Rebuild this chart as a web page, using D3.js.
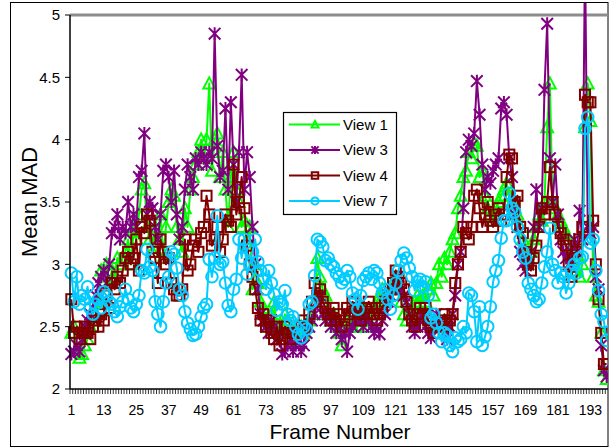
<!DOCTYPE html>
<html><head><meta charset="utf-8">
<script src="https://cdn.jsdelivr.net/npm/d3@7"></script>
<style>body{margin:0;background:#fff}svg{display:block}text{font-family:"Liberation Sans",Arial,sans-serif;fill:#000}</style>
</head><body><svg id="c" width="613" height="448"></svg>
<script>
const frames = d3.range(1, 200);
const yTicks = [2, 2.5, 3, 3.5, 4, 4.5, 5];
const xTickLabels = [1, 13, 25, 37, 49, 61, 73, 85, 97, 109, 121, 133, 145, 157, 169, 181, 193];
const seriesNames = ["View 1", "View 3", "View 4", "View 7"];

const view1 = [
2.45,2.5,2.3,2.25,2.28,2.35,2.4,2.5,2.55,2.6,
2.7,2.95,2.9,3.0,2.85,2.95,2.9,3.05,3.0,3.05,
3.1,3.2,3.0,3.3,3.2,3.4,3.6,3.65,3.3,3.2,
3.1,3.3,3.2,3.4,3.05,3.3,3.5,3.6,3.55,3.3,
3.2,3.1,3.45,3.3,3.6,3.7,3.8,3.9,4.0,3.85,
4.0,4.45,3.75,4.0,4.05,3.7,3.9,3.6,3.3,3.7,
3.9,3.6,3.5,3.3,3.35,3.2,3.3,2.8,3.0,2.85,
2.7,2.65,2.55,2.5,2.6,2.7,2.5,2.45,2.5,2.6,
2.55,2.5,2.45,2.4,2.45,2.5,2.45,2.5,2.55,2.6,
2.7,3.05,2.9,2.8,2.75,2.6,2.55,2.6,2.5,2.45,
2.35,2.5,2.55,2.6,2.5,2.55,2.5,2.6,2.65,2.5,
2.55,2.6,2.65,2.7,2.75,2.8,2.7,2.75,2.8,2.85,
2.9,2.8,2.7,2.6,2.55,2.6,2.65,2.7,2.75,2.7,
2.75,2.7,2.8,2.85,2.75,2.85,3.0,2.9,3.05,3.0,
3.1,3.2,3.25,3.45,3.55,3.7,3.75,3.9,3.85,3.97,
3.95,3.7,3.75,3.55,3.45,3.4,3.35,3.45,3.5,3.55,
3.6,3.65,3.55,3.5,3.45,3.4,3.3,3.2,3.1,3.05,
3.1,3.2,3.3,3.4,3.35,3.5,4.1,4.45,3.5,3.45,
3.4,3.35,3.3,3.25,3.2,3.1,3.0,2.95,2.9,3.0,
4.1,4.45,4.15,2.9,2.75,2.7,2.45,2.15,2.08];

const view3 = [
2.28,2.3,2.35,2.3,2.4,2.5,2.55,2.6,2.65,2.75,
2.85,2.9,2.95,2.85,3.0,3.25,3.3,3.4,3.2,3.3,
3.25,3.5,3.3,3.4,3.3,3.7,3.75,4.05,3.4,3.5,
3.45,3.3,3.2,3.4,3.75,3.8,3.7,3.5,3.75,3.4,
3.2,3.3,3.6,3.8,3.7,3.6,3.85,3.8,3.9,3.85,
3.8,3.9,3.85,4.85,3.95,3.7,3.75,4.25,3.6,4.3,
3.8,3.5,3.9,4.52,3.6,3.9,3.7,3.3,3.0,2.8,
2.6,2.55,2.5,2.45,2.55,2.5,2.4,2.45,2.28,2.3,
2.35,2.4,2.3,2.35,2.4,2.3,2.35,2.45,2.5,2.55,
2.6,2.7,2.75,2.6,2.55,2.6,2.5,2.55,2.45,2.5,
2.4,2.45,2.3,2.45,2.5,2.55,2.6,2.55,2.5,2.6,
2.55,2.5,2.45,2.5,2.44,2.55,2.6,2.7,2.75,2.8,
2.85,2.9,2.8,2.75,2.7,2.6,2.5,2.45,2.5,2.55,
2.6,2.5,2.45,2.41,2.5,2.6,2.55,2.5,2.45,2.4,
2.5,2.6,2.75,3.0,3.1,3.45,3.9,4.0,3.95,4.05,
4.47,4.2,3.8,3.6,3.7,3.65,3.75,3.8,3.85,4.25,
4.3,4.2,3.85,3.7,3.4,3.3,3.1,3.0,2.95,3.0,
3.1,3.3,3.6,3.3,3.45,4.4,4.93,3.85,3.5,3.8,
3.4,3.2,3.1,3.05,3.0,3.1,3.2,3.1,3.43,3.2,
5.5,3.3,3.25,3.3,2.9,2.8,2.35,2.15,2.1];

const view4 = [
2.72,2.45,2.5,2.4,2.45,2.5,2.45,2.4,2.5,2.55,
2.5,2.6,2.55,2.75,2.65,2.85,2.8,2.9,2.85,2.95,
3.05,3.1,3.0,3.05,3.2,2.95,3.3,3.25,3.4,3.35,
3.1,3.05,2.85,3.2,3.1,3.0,3.05,2.85,2.8,2.75,
2.75,2.8,3.2,2.95,3.0,3.15,3.2,3.1,3.25,3.3,
3.55,3.4,3.15,3.2,3.3,3.1,3.2,3.4,3.35,3.3,
3.8,3.4,3.5,3.7,3.45,3.15,3.0,2.9,2.8,2.65,
2.55,2.6,2.5,2.55,2.45,2.4,2.5,2.35,2.4,2.5,
2.45,2.4,2.45,2.5,2.45,2.5,2.55,2.5,2.6,2.7,
2.85,2.75,2.8,2.7,2.65,2.6,2.55,2.65,2.55,2.6,
2.5,2.55,2.65,2.6,2.7,2.65,2.6,2.55,2.6,2.65,
2.7,2.65,2.6,2.55,2.6,2.65,2.7,2.75,2.8,2.85,
2.95,2.9,2.85,2.8,2.7,2.6,2.55,2.5,2.6,2.65,
2.6,2.65,2.55,2.5,2.45,2.5,2.45,2.55,2.6,2.5,
2.55,2.6,2.85,3.0,3.1,3.3,3.25,3.2,3.3,3.55,
3.6,3.45,3.3,3.4,3.5,3.35,3.3,3.4,3.45,3.35,
3.4,3.7,3.88,3.85,3.5,3.55,3.3,3.25,3.1,3.0,
2.95,3.05,3.15,3.3,3.45,3.4,3.5,3.78,3.5,3.4,
3.3,3.25,3.2,3.15,3.0,2.9,3.05,3.1,3.2,3.3,
4.36,4.3,4.3,3.35,3.0,2.72,2.45,2.2,2.2];

const view7 = [
2.93,2.7,2.9,2.68,2.75,2.72,2.82,2.65,2.6,2.68,
2.72,2.65,2.78,2.75,2.7,2.68,2.62,2.58,2.66,2.7,
2.8,2.72,2.65,2.62,2.68,2.75,2.95,2.93,3.12,2.98,
2.95,2.7,2.6,2.5,2.7,2.85,2.9,3.1,3.08,2.97,
2.8,2.75,2.62,2.53,2.48,2.43,2.44,2.5,2.58,2.65,
2.68,3.04,2.9,3.05,3.39,3.0,3.02,2.85,2.67,2.62,
2.8,2.88,3.2,3.05,3.2,2.92,3.0,3.1,3.2,3.02,
2.95,2.88,2.8,2.95,2.85,2.76,2.63,2.7,2.68,2.79,
2.6,2.55,2.58,2.5,2.44,2.41,2.5,2.48,2.68,2.7,
2.91,3.2,3.18,3.14,3.03,3.05,3.0,2.98,2.93,2.9,
2.85,2.88,2.95,2.9,2.77,2.72,2.64,2.75,2.87,2.9,
2.93,2.88,2.95,2.93,2.85,2.77,2.8,2.72,2.64,2.75,
2.85,2.95,3.03,3.09,3.05,2.97,2.9,2.79,2.86,2.88,
2.82,2.86,2.75,2.57,2.6,2.53,2.45,2.38,2.45,2.43,
2.35,2.3,2.41,2.38,2.4,2.5,2.45,2.77,2.75,2.62,
2.38,2.66,2.35,2.42,2.5,2.66,2.86,2.95,3.03,3.21,
3.35,3.35,3.57,3.45,3.42,3.3,3.2,3.1,3.05,2.85,
2.8,2.75,2.7,2.72,2.85,2.98,3.1,3.29,3.0,2.95,
2.85,2.93,2.9,2.77,2.85,2.95,3.0,2.93,3.05,3.06,
4.09,4.18,3.17,3.2,2.95,2.79,2.6,2.54,2.39];

const seriesValues = [view1, view3, view4, view7];
const colors = ["#00ff00", "#800080", "#800000", "#00ccff"];
const shapes = ["triangle", "star", "square", "circle"];
const sizes = [6.2, 5.8, 5.6, 5.8];

const svg = d3.select("#c");
const L = 70, R = 608, T = 15, B = 389;
const x = d3.scaleBand().domain(frames).range([L, R]);
const y = d3.scaleLinear().domain([2, 5]).range([B, T]);
const cx = f => x(f) + x.bandwidth() / 2;

svg.append("defs").append("clipPath").attr("id", "clip")
  .append("rect").attr("x", 11).attr("y", 3).attr("width", 597).attr("height", 443);

svg.append("rect").attr("x", 10.5).attr("y", 2.5).attr("width", 597.5).attr("height", 444)
  .attr("fill", "#fff").attr("stroke", "#000").attr("stroke-width", 1);

svg.append("line").attr("x1", L).attr("x2", R).attr("y1", T).attr("y2", T)
  .attr("stroke", "#8c8c8c").attr("stroke-width", 3);

function marker(g, shape, s) {
  if (shape === "triangle") {
    g.append("path").attr("d", `M0,${-s} L${s * 0.95},${s * 0.8} L${-s * 0.95},${s * 0.8} Z`);
  } else if (shape === "star") {
    g.append("path").attr("d", `M${-s},${-s}L${s},${s}M${-s},${s}L${s},${-s}M0,${-s * 1.1}L0,${s * 1.1}`);
  } else if (shape === "square") {
    g.append("rect").attr("x", -s * 0.9).attr("y", -s * 0.9).attr("width", s * 1.8).attr("height", s * 1.8);
  } else {
    g.append("circle").attr("r", s);
  }
}

const plot = svg.append("g").attr("clip-path", "url(#clip)");
const line = d3.line().x((d, i) => cx(frames[i])).y(d => y(d));
seriesValues.forEach((vals, k) => {
  const g = plot.append("g");
  g.append("path").attr("d", line(vals)).attr("fill", "none")
    .attr("stroke", colors[k]).attr("stroke-width", 2).attr("stroke-linejoin", "round");
  vals.forEach((v, i) => {
    const m = g.append("g").attr("transform", `translate(${cx(frames[i])},${y(v)})`)
      .attr("fill", "none").attr("stroke", colors[k]).attr("stroke-width", 2);
    marker(m, shapes[k], sizes[k]);
  });
});

svg.append("line").attr("x1", L).attr("x2", L).attr("y1", T).attr("y2", B).attr("stroke", "#000").attr("stroke-width", 1.5);
yTicks.forEach(t => {
  svg.append("line").attr("x1", L - 5).attr("x2", L).attr("y1", y(t)).attr("y2", y(t)).attr("stroke", "#000");
  svg.append("text").attr("x", L - 10).attr("y", y(t)).attr("dy", "0.36em")
    .attr("text-anchor", "end").attr("font-size", 15).text(t);
});

svg.append("line").attr("x1", L).attr("x2", R).attr("y1", B).attr("y2", B).attr("stroke", "#000").attr("stroke-width", 1.5);
frames.forEach(f => {
  svg.append("line").attr("x1", x(f)).attr("x2", x(f)).attr("y1", B).attr("y2", B + 5).attr("stroke", "#000").attr("stroke-width", 0.8);
});
xTickLabels.forEach(f => {
  svg.append("text").attr("x", cx(f)).attr("y", 415).attr("text-anchor", "middle").attr("font-size", 14).text(f);
});

svg.append("text").attr("x", 340).attr("y", 439).attr("text-anchor", "middle").attr("font-size", 21).text("Frame Number");
svg.append("text").attr("transform", "translate(37,202) rotate(-90)").attr("text-anchor", "middle").attr("font-size", 22).text("Mean MAD");

const lg = svg.append("g");
lg.append("rect").attr("x", 283.5).attr("y", 112.5).attr("width", 113).attr("height", 102)
  .attr("fill", "#fff").attr("stroke", "#000").attr("stroke-width", 1.2);
seriesNames.forEach((n, k) => {
  const yy = 124.5 + k * 25.5;
  lg.append("line").attr("x1", 289).attr("x2", 340).attr("y1", yy).attr("y2", yy).attr("stroke", colors[k]).attr("stroke-width", 2);
  const m = lg.append("g").attr("transform", `translate(315,${yy})`).attr("fill", "none").attr("stroke", colors[k]).attr("stroke-width", 2);
  marker(m, shapes[k], 3.6);
  lg.append("text").attr("x", 343).attr("y", yy).attr("dy", "0.36em").attr("font-size", 15).text(n);
});
</script></body></html>
